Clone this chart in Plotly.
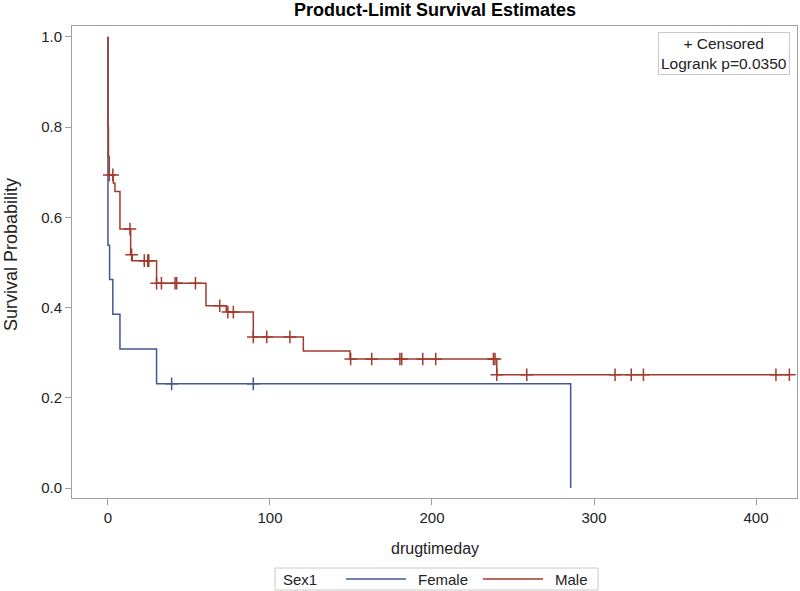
import plotly.graph_objects as go

# ---- data ----
female_times = [0, 0, 1, 3, 7.4, 30, 285.6]
female_surv = [1.0, 0.538, 0.462, 0.385, 0.308, 0.231, 0.0]
female_censor_times = [39.3, 89.7]

male_times = [0, 0, 0.3, 0.8, 3.3, 4.3, 7.4, 14, 15, 30, 60.5, 73, 89.7, 120.6, 149.4, 240, 420.6]
male_surv = [1.0, 0.80, 0.735, 0.694, 0.676, 0.657, 0.574, 0.517, 0.504, 0.454, 0.404, 0.390,
             0.335, 0.304, 0.286, 0.251, 0.251]
male_censor_times = [0.8, 3.0, 13.6, 14.6, 22.4, 24.5, 25.2, 30, 33, 41.4, 42.4, 54, 69, 74, 77.4,
                     89.7, 98, 112.3, 149.8, 162.8, 180.2, 181.3, 194.3, 202.3, 237.9, 238.9,
                     240, 258.5, 313, 323, 330.5, 412.3, 420.6]

x_ticks = [0, 100, 200, 300, 400]
y_ticks = [0.0, 0.2, 0.4, 0.6, 0.8, 1.0]
group_names = ["Female", "Male"]

FEMALE_COLOR = "#445694"
MALE_COLOR = "#A23A2E"
AXIS_COLOR = "#A0A0A0"
TEXT_COLOR = "#222222"
FONT = "Liberation Sans, Arial, sans-serif"

# plot area in pixels
W, H = 800, 591
L, R, T, B = 72, 3, 26, 93
PW, PH = W - L - R, H - T - B


def px(xp):
    return (xp - L) / PW


def py(yp):
    return (H - B - yp) / PH


def surv_at(times, surv, t):
    val = surv[0]
    for ti, si in zip(times, surv):
        if ti <= t:
            val = si
    return val


fig = go.Figure()

fig.add_trace(go.Scatter(x=female_times, y=female_surv, mode="lines", line_shape="hv",
                         line=dict(color=FEMALE_COLOR, width=1.5), name=group_names[0],
                         showlegend=False))
fig.add_trace(go.Scatter(x=male_times, y=male_surv, mode="lines", line_shape="hv",
                         line=dict(color=MALE_COLOR, width=1.5), name=group_names[1],
                         showlegend=False))

fig.add_trace(go.Scatter(x=female_censor_times,
                         y=[surv_at(female_times, female_surv, t) for t in female_censor_times],
                         mode="markers", showlegend=False,
                         marker=dict(symbol="cross-thin", size=9,
                                     line=dict(color=FEMALE_COLOR, width=1.5))))
fig.add_trace(go.Scatter(x=male_censor_times,
                         y=[surv_at(male_times, male_surv, t) for t in male_censor_times],
                         mode="markers", showlegend=False,
                         marker=dict(symbol="cross-thin", size=9,
                                     line=dict(color=MALE_COLOR, width=1.5))))

fig.update_layout(
    width=W, height=H,
    margin=dict(l=L, r=R, t=T, b=B, autoexpand=False),
    plot_bgcolor="white", paper_bgcolor="white",
    font=dict(family=FONT, size=15, color=TEXT_COLOR),
    showlegend=False,
    xaxis=dict(range=[-22.2, 425.3], tickvals=x_ticks, ticks="outside", ticklen=6,
               tickcolor=AXIS_COLOR, showline=True, linecolor=AXIS_COLOR, mirror=True,
               showgrid=False, zeroline=False, automargin=False,
               tickfont=dict(size=15, color=TEXT_COLOR)),
    yaxis=dict(range=[-0.022, 1.024], tickvals=y_ticks, tickformat=".1f", ticks="outside",
               ticklen=6, tickcolor=AXIS_COLOR, showline=True, linecolor=AXIS_COLOR, mirror=True,
               showgrid=False, zeroline=False, automargin=False,
               tickfont=dict(size=15, color=TEXT_COLOR)),
)

# title
fig.add_annotation(xref="paper", yref="paper", x=px(435), y=py(10.5), xanchor="center",
                   yanchor="middle", text="<b>Product-Limit Survival Estimates</b>",
                   showarrow=False, font=dict(size=18, color="#000000"))
# axis titles
fig.add_annotation(xref="paper", yref="paper", x=px(435), y=py(548), xanchor="center",
                   yanchor="middle", text="drugtimeday", showarrow=False,
                   font=dict(size=16, color=TEXT_COLOR))
fig.add_annotation(xref="paper", yref="paper", x=px(11), y=py(255), xanchor="center",
                   yanchor="middle", text="Survival Probability", textangle=-90,
                   showarrow=False, font=dict(size=18, color=TEXT_COLOR))

# inset box
fig.add_annotation(xref="paper", yref="paper", x=px(790), y=py(32), xanchor="right",
                   yanchor="top", text="+ Censored<br>Logrank p=0.0350", showarrow=False,
                   align="center", font=dict(size=15.5, color=TEXT_COLOR),
                   bordercolor="#C8C8C8", borderwidth=1, borderpad=2, bgcolor="white")

# bottom legend (box, title, line samples, labels)
fig.add_shape(type="rect", xref="paper", yref="paper", x0=px(275), x1=px(598),
              y0=py(568), y1=py(590), line=dict(color="#C8C8C8", width=1),
              fillcolor="white")
fig.add_annotation(xref="paper", yref="paper", x=px(281), y=py(579), xanchor="left",
                   yanchor="middle", text="Sex1", showarrow=False,
                   font=dict(size=15, color=TEXT_COLOR))
legend_items = [(group_names[0], FEMALE_COLOR, 346, 406, 416),
                (group_names[1], MALE_COLOR, 483, 543, 553)]
for name, color, lx0, lx1, tx in legend_items:
    fig.add_shape(type="line", xref="paper", yref="paper", x0=px(lx0), x1=px(lx1),
                  y0=py(579), y1=py(579), line=dict(color=color, width=1.5))
    fig.add_annotation(xref="paper", yref="paper", x=px(tx), y=py(579), xanchor="left",
                       yanchor="middle", text=name, showarrow=False,
                       font=dict(size=15, color=TEXT_COLOR))

fig.write_html("out.html", config={"displayModeBar": False},
               post_script="document.body.style.margin='0';document.body.style.overflow='hidden';")
